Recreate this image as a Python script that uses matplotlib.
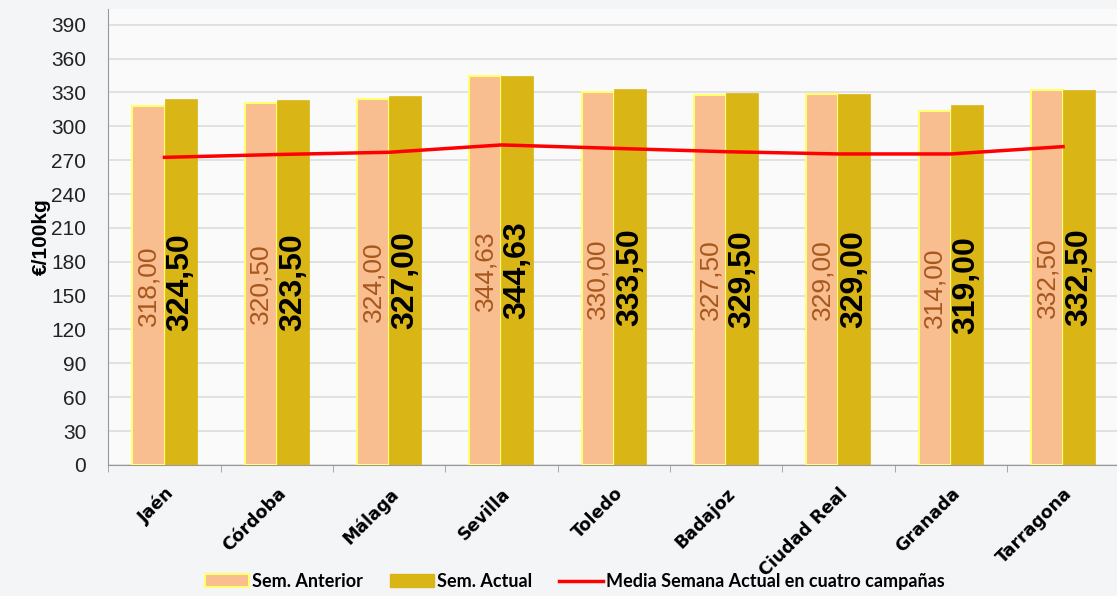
import numpy as np
import matplotlib.pyplot as plt
from matplotlib.patches import Patch
from matplotlib.lines import Line2D

plt.rcParams['font.family'] = ['Liberation Sans', 'DejaVu Sans']

# Data
provincias = ["Jaén", "Córdoba", "Málaga", "Sevilla", "Toledo",
              "Badajoz", "Ciudad Real", "Granada", "Tarragona"]
sem_anterior = [318.00, 320.50, 324.00, 344.63, 330.00, 327.50, 329.00, 314.00, 332.50]
sem_actual = [324.50, 323.50, 327.00, 344.63, 333.50, 329.50, 329.00, 319.00, 332.50]
media_cuatro = [272.5, 275.0, 277.0, 283.5, 280.5, 277.5, 275.5, 275.5, 282.0]

# Colours
c_ant = "#F8BE8F"
c_ant_edge = "#FFFF70"
c_act = "#D9B516"
c_line = "#FF0000"
bg = "#F4F5F7"

fig = plt.figure(figsize=(11.17, 5.96), dpi=100, facecolor=bg)
ax = fig.add_axes([0.097, 0.22, 0.905, 0.765])
ax.set_facecolor("#FAFAFB")

x = np.arange(len(provincias))
w = 0.285

ax.bar(x - w / 2, sem_anterior, w, color=c_ant, edgecolor=c_ant_edge, linewidth=1.5, zorder=3)
ax.bar(x + w / 2, sem_actual, w, color=c_act, edgecolor=c_act, linewidth=0.5, zorder=3)
ax.plot(x, media_cuatro, color=c_line, lw=2.5, zorder=4)

# value labels inside bars
for i in range(len(x)):
    ax.text(x[i] - w / 2, sem_anterior[i] / 2, f"{sem_anterior[i]:.2f}".replace(".", ","),
            rotation=90, ha="center", va="center", fontsize=19, color="#A8561E", zorder=5)
    ax.text(x[i] + w / 2, sem_actual[i] / 2, f"{sem_actual[i]:.2f}".replace(".", ","),
            rotation=90, ha="center", va="center", fontsize=23, fontweight="bold",
            color="black", zorder=5)

ax.set_xlim(-0.5, len(x) - 0.5)
ax.set_ylim(0, 404)
ax.set_yticks(np.arange(0, 391, 30))
ax.tick_params(axis="y", labelsize=15, length=0, pad=16, labelcolor="#222222")
ax.yaxis.grid(True, color="#DCDCDC", lw=1.2, zorder=0)

ax.set_xticks(x)
ax.set_xticklabels(provincias, rotation=45, ha="right", rotation_mode="anchor",
                   fontsize=12.5, fontweight="bold", family=["DejaVu Sans"])
ax.tick_params(axis="x", which="major", length=0, pad=14)
ax.set_xticks(np.arange(-0.5, len(x), 1), minor=True)
ax.tick_params(axis="x", which="minor", length=5, color="#999999")

for s in ["top", "right"]:
    ax.spines[s].set_visible(False)
ax.spines["left"].set_color("#999999")
ax.spines["bottom"].set_color("#999999")

ax.set_ylabel("€/100kg", fontsize=15, fontweight="bold", labelpad=0)

handles = [Patch(facecolor=c_ant, edgecolor=c_ant_edge, linewidth=1.5),
           Patch(facecolor=c_act, edgecolor=c_act),
           Line2D([0], [0], color=c_line, lw=2.5)]
labels = ["Sem. Anterior", "Sem. Actual", "Media Semana Actual en cuatro campañas"]
fig.legend(handles, labels, loc="lower center", bbox_to_anchor=(0.515, -0.017), ncol=3,
           frameon=False, prop={"weight": "bold", "size": 13, "family": "Lato"},
           handlelength=2.4, handletextpad=0.2, columnspacing=1.5)

fig.savefig("out.png", dpi=100, facecolor=bg)
